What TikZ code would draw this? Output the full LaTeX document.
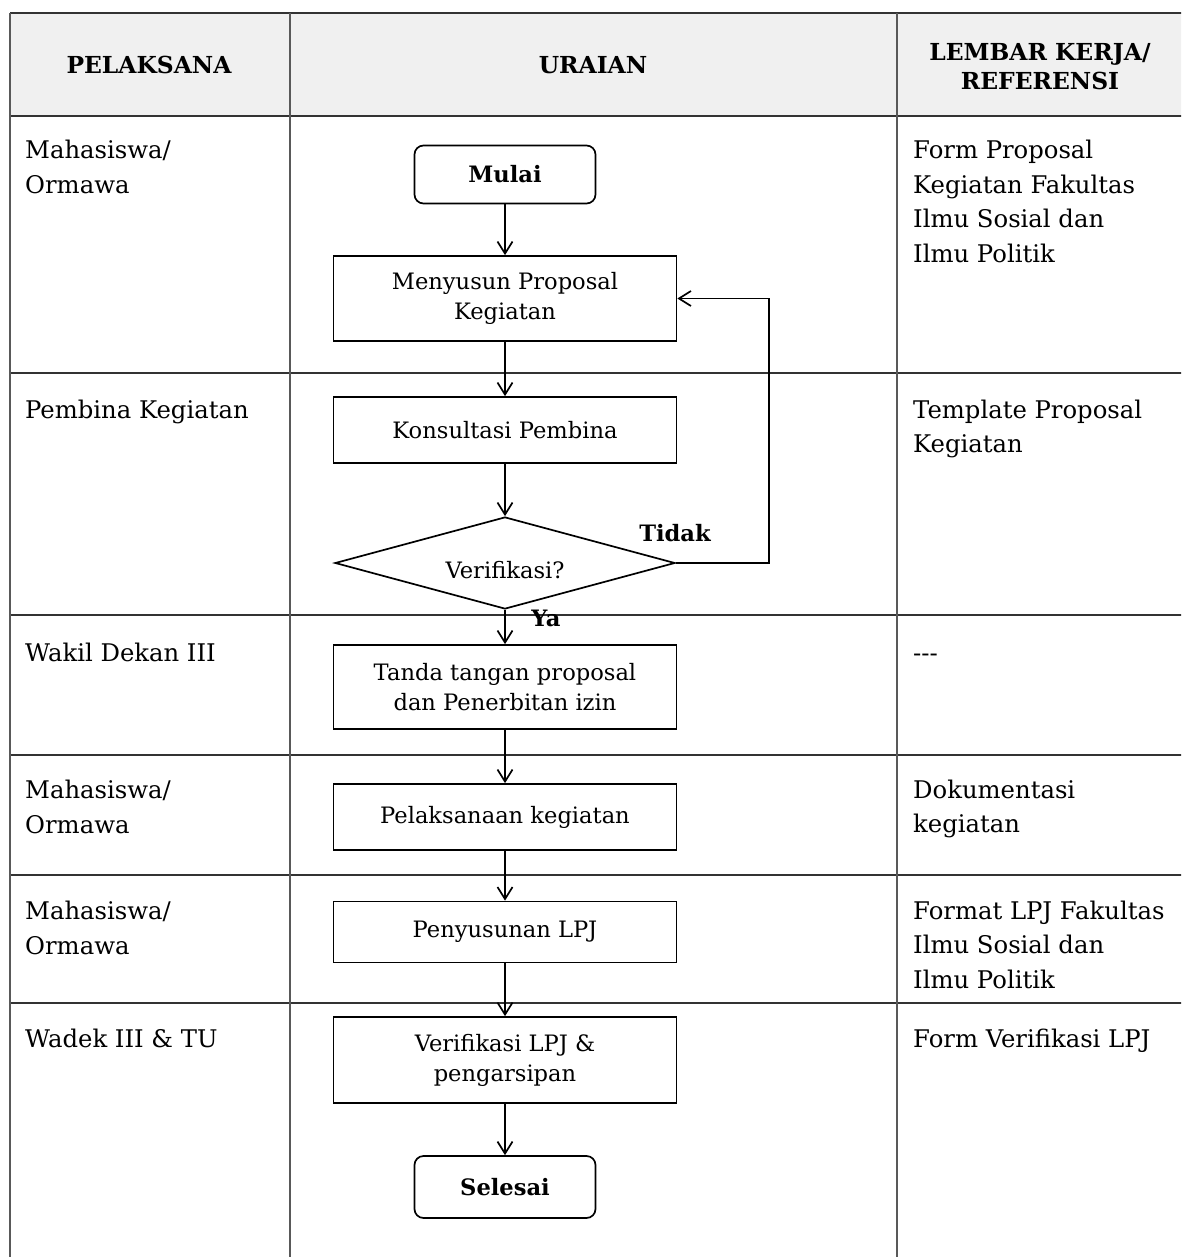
\documentclass[tikz,border=0pt]{standalone}
\usepackage{fontspec}
\setmainfont{DejaVu Serif}
\usetikzlibrary{arrows.meta,shapes.geometric}
\newcommand\colfnt{\fontsize{24.3}{34}\selectfont}
\newcommand\boxfnt{\fontsize{22.6}{30}\selectfont}
\newcommand\headfnt{\fontsize{23.4}{29}\selectfont\bfseries}
\tikzset{
  gridline/.style={line width=1.9pt, draw=black!80},
  proc/.style={draw, line width=1.7pt, rectangle, minimum width=343pt, inner sep=0pt, align=center, font=\boxfnt},
  term/.style={draw, line width=1.7pt, rectangle, rounded corners=9pt, minimum width=181pt, minimum height=58pt, inner sep=0pt, font=\boxfnt\bfseries},
  decision/.style={draw, line width=1.7pt, diamond, shape aspect=3.7, minimum width=340pt, minimum height=92pt, inner sep=0pt, font=\boxfnt},
  flow/.style={-{Straight Barb[length=12pt,width=15pt]}, line width=1.7pt},
  coltxt/.style={anchor=base west, inner sep=0pt, font=\colfnt},
  headtxt/.style={inner sep=0pt, align=center, font=\headfnt},
  lbl/.style={inner sep=0pt, font=\boxfnt\bfseries}
}
\begin{document}
\begin{tikzpicture}[x=1pt,y=-1pt]
\useasboundingbox (0,0) rectangle (1181,1257);
\fill[white] (0,0) rectangle (1181,1257);
\clip (0,0) rectangle (1181,1257);
% header background
\fill[black!6] (10,13) rectangle (1183,116);
% table lines
\draw[gridline] (10,13) -- (1183,13);
\foreach \yy in {116,373,615,755,875,1003} {\draw[gridline] (10,\yy) -- (1183,\yy);}
\foreach \xx in {10,290,897,1183} {\draw[gridline, draw=black!65] (\xx,13) -- (\xx,1270);}
% headers
\node[headtxt] (h1) at (149,65) {PELAKSANA};
\node[headtxt] (h2) at (593,65) {URAIAN};
\node[headtxt] (h3) at (1040,67) {LEMBAR KERJA/\\REFERENSI};
% left column
\node[coltxt] (p1a) at (25,159) {Mahasiswa/};
\node[coltxt] (p1b) at (25,194) {Ormawa};
\node[coltxt] (p2) at (25,418) {Pembina Kegiatan};
\node[coltxt] (p3) at (25,661) {Wakil Dekan III};
\node[coltxt] (p4a) at (25,798) {Mahasiswa/};
\node[coltxt] (p4b) at (25,833) {Ormawa};
\node[coltxt] (p5a) at (25,919) {Mahasiswa/};
\node[coltxt] (p5b) at (25,954) {Ormawa};
\node[coltxt] (p6) at (25,1047) {Wadek III \& TU};
% right column
\node[coltxt] (r1a) at (913,159) {Form Proposal};
\node[coltxt] (r1b) at (913,193.5) {Kegiatan Fakultas};
\node[coltxt] (r1c) at (913,228) {Ilmu Sosial dan};
\node[coltxt] (r1d) at (913,262.5) {Ilmu Politik};
\node[coltxt] (r2a) at (913,418) {Template Proposal};
\node[coltxt] (r2b) at (913,452.5) {Kegiatan};
\node[coltxt] (r3) at (913,661) {-{}-{}-};
\node[coltxt] (r4a) at (913,798) {Dokumentasi};
\node[coltxt] (r4b) at (913,832.5) {kegiatan};
\node[coltxt] (r5a) at (913,919) {Format LPJ Fakultas};
\node[coltxt] (r5b) at (913,953.5) {Ilmu Sosial dan};
\node[coltxt] (r5c) at (913,988) {Ilmu Politik};
\node[coltxt] (r6) at (913,1047) {Form Verifikasi LPJ};
% flow
\node[term] (mulai) at (505,174.5) {Mulai};
\node[proc, minimum height=85pt] (susun) at (505,298.5) {Menyusun Proposal\\Kegiatan};
\node[proc, minimum height=66pt] (konsul) at (505,430) {Konsultasi Pembina};
\node[decision] (verif) at (505,563) {\raisebox{-7pt}[\height][\depth]{Verifikasi?}};
\node[proc, minimum height=84pt] (ttd) at (505,687) {Tanda tangan proposal\\dan Penerbitan izin};
\node[proc, minimum height=66pt] (laksana) at (505,817) {Pelaksanaan kegiatan};
\node[proc, minimum height=61pt] (lpj) at (505,932) {Penyusunan LPJ};
\node[proc, minimum height=86pt] (veriflpj) at (505,1060) {Verifikasi LPJ \&\\pengarsipan};
\node[term, minimum height=62pt] (selesai) at (505,1187) {Selesai};
\coordinate (loop) at (769,298.5);
\draw[flow] (mulai) -- (susun);
\draw[flow] (susun) -- (konsul);
\draw[flow] (konsul) -- (verif);
\draw[flow] (verif) -- (ttd);
\draw[flow] (ttd) -- (laksana);
\draw[flow] (laksana) -- (lpj);
\draw[flow] (lpj) -- (veriflpj);
\draw[flow] (veriflpj) -- (selesai);
\draw[flow] (verif.east) -| (loop) -- (susun.east);
\node[lbl] (tidak) at (675,533) {Tidak};
\node[lbl] (ya) at (546,618) {Ya};
\end{tikzpicture}
\end{document}
